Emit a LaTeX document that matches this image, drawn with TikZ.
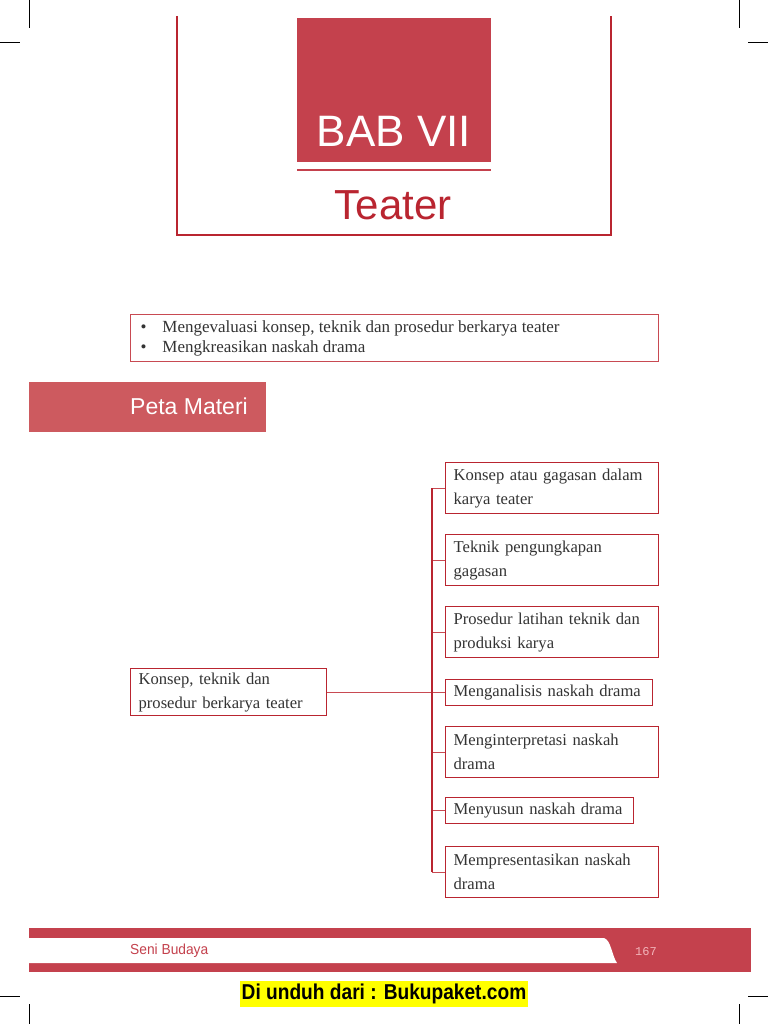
\documentclass[tikz,border=0pt]{standalone}
\usepackage{fontspec}
\setmainfont{Liberation Serif}
\newfontfamily\hv{Liberation Sans}
\newfontfamily\mono{Liberation Mono}
\definecolor{blockred}{HTML}{C4414D}
\definecolor{linered}{HTML}{B92530}
\definecolor{petared}{HTML}{CD5A5F}
\definecolor{lightred}{HTML}{C84A52}
\definecolor{pagepink}{HTML}{F2B5BA}
\definecolor{hl}{HTML}{FFFF00}
\tikzset{
  mapbox/.style={draw=linered, line width=1.3pt, anchor=north west, inner xsep=8pt, inner ysep=0pt,
     align=left, font=\fontsize{16.6}{24}\selectfont, text=black!80},
  objtext/.style={anchor=west, font=\fontsize{17}{20}\selectfont, text=black!80, align=left},
  branch/.style={draw=lightred, line width=1pt},
  trunk/.style={draw=linered, line width=1.6pt},
  cropmark/.style={draw=black, line width=0.8pt}
}
\begin{document}
\begin{tikzpicture}[x=1pt,y=-1pt]
\useasboundingbox (0,0) rectangle (768,1024);
% crop marks
\draw[cropmark] (29,0) -- (29,28);
\draw[cropmark] (0,42) -- (20,42);
\draw[cropmark] (739,0) -- (739,28);
\draw[cropmark] (748,42) -- (768,42);
\draw[cropmark] (0,996) -- (20,996);
\draw[cropmark] (29,1004) -- (29,1024);
\draw[cropmark] (748,996) -- (768,996);
\draw[cropmark] (739,1004) -- (739,1024);
% title frame
\draw[linered, line width=2.4pt] (177,16) -- (177,235) -- (611,235) -- (611,16);
\fill[blockred] (297,18) rectangle (491,162);
\node[text=white, font=\hv\fontsize{44}{44}\selectfont] (bab) at (394,131) {BAB VII};
\draw[blockred, line width=2.2pt] (297,170) -- (491,170);
\node[text=linered, font=\hv\fontsize{42}{42}\selectfont] (teater) at (393,205) {Teater};
% objectives
\node[draw=lightred, line width=1pt, anchor=north west, minimum width=528pt, minimum height=47pt] (obj) at (130,314) {};
\node[objtext] (o1) at (137,328) {•\hspace{16pt}Mengevaluasi konsep, teknik dan prosedur berkarya teater};
\node[objtext] (o2) at (137,348) {•\hspace{16pt}Mengkreasikan naskah drama};
% peta materi
\node[fill=petared, anchor=north west, minimum width=237pt, minimum height=50pt] (peta) at (29,382) {};
\node[anchor=west, text=white, font=\hv\fontsize{23}{23}\selectfont, inner sep=0pt] (petatxt) at (130,406) {Peta Materi};
% diagram
\node[mapbox, text width=180pt, minimum height=47pt] (main) at (130,668) {Konsep, teknik dan\\prosedur berkarya teater};
\node[mapbox, text width=197pt, minimum height=51pt] (b1) at (445,462) {Konsep atau gagasan dalam\\karya teater};
\node[mapbox, text width=197pt, minimum height=51pt] (b2) at (445,534) {Teknik pengungkapan\\gagasan};
\node[mapbox, text width=197pt, minimum height=51pt] (b3) at (445,606) {Prosedur latihan teknik dan\\produksi karya};
\node[mapbox, text width=191pt, minimum height=26pt] (b4) at (445,679) {Menganalisis naskah drama};
\node[mapbox, text width=197pt, minimum height=51pt] (b5) at (445,726) {Menginterpretasi naskah\\drama};
\node[mapbox, text width=172pt, minimum height=26pt] (b6) at (445,797) {Menyusun naskah drama};
\node[mapbox, text width=197pt, minimum height=51pt] (b7) at (445,846) {Mempresentasikan naskah\\drama};
\coordinate (tr) at (432,0);
\draw[branch] (main.east) -- (main.east -| tr);
\foreach \b in {b1,b2,b3,b4,b5,b6,b7} {\draw[branch] (\b.west) -- (\b.west -| tr);}
\draw[trunk] (b1.west -| tr) -- (b7.west -| tr);
% footer
\fill[blockred] (29,928) rectangle (751,972);
\fill[white] (29,938) -- (604,938) .. controls (611,940) and (612,956) .. (617,963) -- (29,963) -- cycle;
\node[anchor=west, text=blockred, font=\hv\fontsize{14.5}{14.5}\selectfont, inner sep=0pt] (seni) at (130,951) {\scalebox{0.95}[1]{Seni Budaya}};
\node[anchor=west, text=pagepink, font=\mono\fontsize{12}{12}\selectfont, inner sep=0pt] (page) at (635,952) {167};
\node[fill=hl, inner xsep=2pt, inner ysep=2.5pt, font=\hv\bfseries\fontsize{21.5}{21.5}\selectfont] (dl) at (384,994) {\scalebox{0.89}[1]{Di unduh dari : Bukupaket.com}};
\end{tikzpicture}
\end{document}
